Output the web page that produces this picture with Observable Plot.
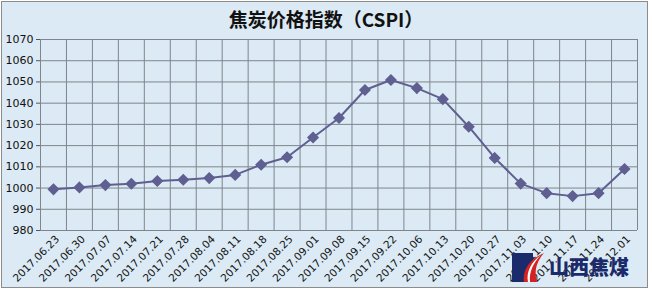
<!DOCTYPE html>
<html>
<head>
<meta charset="utf-8">
<script src="https://cdn.jsdelivr.net/npm/d3@7"></script>
<script src="https://cdn.jsdelivr.net/npm/@observablehq/plot@0.6"></script>
<style>
  html, body { margin: 0; padding: 0; background: #ffffff; }
  #wrap { position: relative; width: 652px; height: 291px; overflow: hidden; background: #ffffff; }
  #frame { position: absolute; left: 1px; top: 1px; width: 645px; height: 285px; border: 1px solid #8c8c8c; background: #dbeaf4; }
  #title { position: absolute; left: 0; top: 6px; width: 652px; text-align: center; font-family: "Noto Sans CJK SC", sans-serif; font-size: 19px; font-weight: 700; color: #111; line-height: 26px; }
  #chart { position: absolute; left: 0; top: 0; }
  #logo { position: absolute; left: 511px; top: 252px; width: 120px; height: 31px; }
  #logo .txt { position: absolute; left: 38px; top: 1px; font-family: "Noto Sans CJK SC", sans-serif; font-weight: 900; font-size: 20px; color: #1b2a6b; line-height: 28px; }
</style>
</head>
<body>
<div id="wrap">
  <div id="frame"></div>
  <div id="chart"></div>
  <div id="title">焦炭价格指数（CSPI）</div>
  <div id="logo">
    <svg width="36" height="31" style="position:absolute;left:0;top:0">
      <rect x="1" y="1" width="21" height="29" fill="#1b2a6b"></rect>
      <path d="M33 1 C19 7 11 18 13 30 L26 30 C23 20 25 10 33 1 Z" fill="#d42222"></path>
      <path d="M30 3 C20 10 15 20 17 30 L19 30 C18 20 22 11 30 3 Z" fill="#ffffff"></path>
    </svg>
    <div class="txt">山西焦煤</div>
  </div>
</div>
<script>
const dates = ["2017.06.23","2017.06.30","2017.07.07","2017.07.14","2017.07.21","2017.07.28","2017.08.04","2017.08.11","2017.08.18","2017.08.25","2017.09.01","2017.09.08","2017.09.15","2017.09.22","2017.10.06","2017.10.13","2017.10.20","2017.10.27","2017.11.03","2017.11.10","2017.11.17","2017.11.24","2017.12.01"];
const values = [999.4, 1000.3, 1001.4, 1002.0, 1003.3, 1003.9, 1004.7, 1006.2, 1011.0, 1014.5, 1023.8, 1033.0, 1046.2, 1050.9, 1047.1, 1041.9, 1028.9, 1014.2, 1002.1, 997.6, 996.2, 997.6, 1009.0];
const yTicks = [980, 990, 1000, 1010, 1020, 1030, 1040, 1050, 1060, 1070];

const data = dates.map((d, i) => ({i, date: d, value: values[i]}));
const boundaries = d3.range(-1, dates.length).map(i => i + 0.5);

const chart = Plot.plot({
  width: 652,
  height: 291,
  marginLeft: 40,
  marginRight: 15,
  marginTop: 39,
  marginBottom: 61,
  style: {background: "transparent", fontFamily: "DejaVu Sans, sans-serif", color: "#111"},
  x: {type: "linear", domain: [-0.5, dates.length - 0.5]},
  y: {domain: [980, 1070]},
  marks: [
    Plot.ruleY(yTicks, {stroke: "#7f858c", strokeWidth: 1, strokeOpacity: 1}),
    Plot.ruleX(boundaries, {stroke: "#7f858c", strokeWidth: 1, strokeOpacity: 1}),
    Plot.axisY({ticks: yTicks, tickSize: 4, tickPadding: 3, fontSize: 11, stroke: "#555", label: null, tickFormat: d => String(d)}),
    Plot.axisX({ticks: d3.range(dates.length), tickFormat: i => dates[i], tickSize: 0, tickRotate: -45, tickPadding: 7, fontSize: 10.5, label: null, dx: 4}),
    Plot.line(data, {x: "i", y: "value", stroke: "#5f5f91", strokeWidth: 2}),
    Plot.dot(data, {x: "i", y: "value", symbol: "diamond2", r: 4.5, fill: "#5f5f91", stroke: "#5f5f91"})
  ]
});
document.getElementById("chart").appendChild(chart);
</script>
</body>
</html>
